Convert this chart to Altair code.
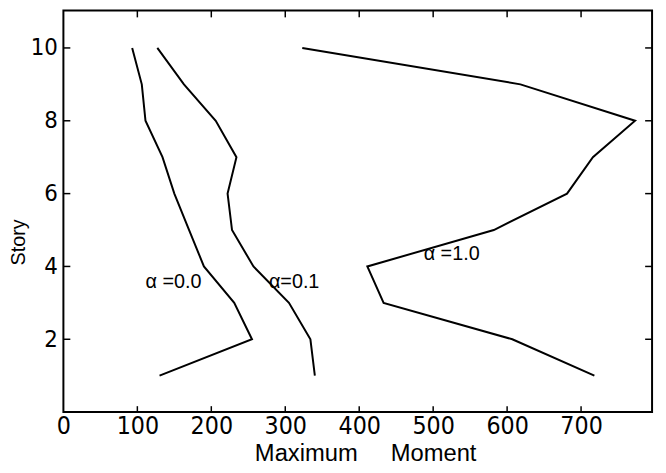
import altair as alt
import pandas as pd

# ---- data ----
stories = [1, 2, 3, 4, 5, 6, 7, 8, 9, 10]
moment_a00 = [130, 255, 231, 190, 170, 150, 134, 111, 106, 93]
moment_a01 = [340, 334, 305, 257, 228, 222, 234, 206, 163, 127]
moment_a10 = [718, 607, 433, 411, 582, 681, 716, 773, 618, 323]
series_names = ["a00", "a01", "a10"]

label_text = ["\u03b1 =0.0", "\u03b1=0.1", "\u03b1 =1.0"]
label_x = [149, 312, 525]
label_y = [3.56, 3.56, 4.33]

x_ticks = [100, 200, 300, 400, 500, 600, 700]
x_labels = [0, 100, 200, 300, 400, 500, 600, 700]
y_ticks = [2, 4, 6, 8, 10]

W, H = 595, 406

rows = []
for name, vals in zip(series_names, [moment_a00, moment_a01, moment_a10]):
    for s, m in zip(stories, vals):
        rows.append({"series": name, "story": s, "moment": m})
df = pd.DataFrame(rows)

xscale = alt.Scale(domain=[0, 796], nice=False, zero=False)
yscale = alt.Scale(domain=[0, 11.03], nice=False, zero=False)

narrow = "DejaVu Sans Condensed, Roboto, sans-serif"
regular = "Liberation Sans, Arial, sans-serif"

lines = alt.Chart(df).mark_line(color="black", strokeWidth=2).encode(
    x=alt.X("moment:Q", scale=xscale,
            axis=alt.Axis(values=x_labels, ticks=False, domain=False, grid=False,
                          labelFont=narrow, labelFontSize=25, labelColor="black",
                          labelPadding=2, labelFlush=False,
                          title="Maximum\u00a0\u00a0\u00a0\u00a0\u00a0Moment",
                          titleFont=regular, titleFontSize=24, titleFontWeight="normal",
                          titleColor="black", titleBaseline="alphabetic", titleY=49,
                          titleX=305)),
    y=alt.Y("story:Q", scale=yscale,
            axis=alt.Axis(values=y_ticks, ticks=False, domain=False, grid=False,
                          labelFont=narrow, labelFontSize=24, labelColor="black",
                          labelPadding=6,
                          title="Story", titleFont=regular, titleFontSize=20,
                          titleFontWeight="normal", titleColor="black",
                          titleAngle=-90, titleAlign="center", titleBaseline="middle",
                          titleX=-45, titleY=234)),
    detail="series:N",
    order="story:Q",
)

xt = pd.DataFrame({"v": x_ticks})
yt = pd.DataFrame({"v": y_ticks})

tick_bottom = alt.Chart(xt).mark_rule(color="black", strokeWidth=1.5).encode(
    x=alt.X("v:Q", scale=xscale), y=alt.value(H), y2=alt.value(H - 6))
tick_top = alt.Chart(xt).mark_rule(color="black", strokeWidth=1.5).encode(
    x=alt.X("v:Q", scale=xscale), y=alt.value(0), y2=alt.value(7))
tick_left = alt.Chart(yt).mark_rule(color="black", strokeWidth=1.5).encode(
    y=alt.Y("v:Q", scale=yscale), x=alt.value(0), x2=alt.value(7))
tick_right = alt.Chart(yt).mark_rule(color="black", strokeWidth=1.5).encode(
    y=alt.Y("v:Q", scale=yscale), x=alt.value(W), x2=alt.value(W - 7))

labels_df = pd.DataFrame({"t": label_text, "x": label_x, "y": label_y})
labels = alt.Chart(labels_df).mark_text(
    font=regular, fontSize=20, color="black", align="center", baseline="middle"
).encode(x=alt.X("x:Q", scale=xscale), y=alt.Y("y:Q", scale=yscale), text="t:N")

chart = alt.layer(lines, tick_bottom, tick_top, tick_left, tick_right, labels).properties(
    width=W, height=H,
    autosize=alt.AutoSizeParams(type="none"),
    padding={"left": 56, "top": 0, "right": 6, "bottom": 51},
    background="white",
).configure_view(stroke="black", strokeWidth=2)

chart.save("out.html", embed_options={"renderer": "svg", "actions": False})
